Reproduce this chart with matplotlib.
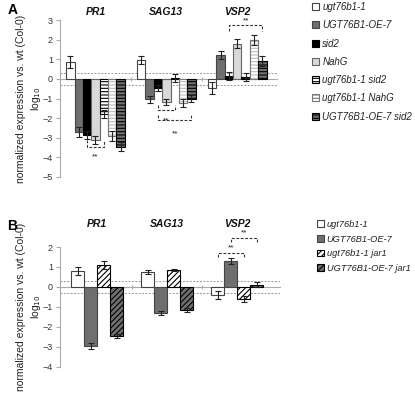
import numpy as np
import matplotlib
matplotlib.use("Agg")
import matplotlib.pyplot as plt
from matplotlib.patches import Patch

plt.rcParams['font.family'] = ['Liberation Sans', 'DejaVu Sans']
plt.rcParams['hatch.linewidth'] = 0.8

# ---- data: panel A ----
genes = ['PR1', 'SAG13', 'VSP2']
lines_a = ['ugt76b1-1', 'UGT76B1-OE-7', 'sid2', 'NahG',
           'ugt76b1-1 sid2', 'ugt76b1-1 NahG', 'UGT76B1-OE-7 sid2']
vals_a = [[0.85, -2.7, -2.85, -3.1, -1.8, -2.9, -3.45],
          [0.95, -1.05, -0.45, -1.2, 0.05, -1.25, -1.0],
          [-0.45, 1.2, 0.15, 1.8, 0.08, 2.0, 0.9]]
errs_a = [[0.3, 0.25, 0.2, 0.2, 0.2, 0.25, 0.22],
          [0.2, 0.2, 0.15, 0.15, 0.2, 0.2, 0.2],
          [0.3, 0.2, 0.22, 0.25, 0.2, 0.25, 0.25]]

# ---- data: panel B ----
lines_b = ['ugt76b1-1', 'UGT76B1-OE-7', 'ugt76b1-1 jar1', 'UGT76B1-OE-7 jar1']
vals_b = [[0.8, -2.95, 1.1, -2.45],
          [0.75, -1.3, 0.85, -1.15],
          [-0.38, 1.3, -0.62, 0.12]]
errs_b = [[0.2, 0.15, 0.18, 0.1],
          [0.1, 0.08, 0.05, 0.08],
          [0.2, 0.15, 0.15, 0.12]]

# significance brackets: (gene, bar_i, bar_j, y, tick length, star y)
sig_a = [(0, 2, 4, -3.47, 0.37, -3.8),
         (1, 2, 4, -1.58, 0.25, -1.95),
         (1, 2, 6, -2.09, 0.25, -2.6),
         (2, 2, 6, 2.75, -0.3, 2.8)]
sig_b = [(2, 0, 2, 1.7, -0.22, 1.78),
         (2, 1, 3, 2.45, -0.2, 2.53)]

# styles per line
sty_a = [dict(fc='white', ec='#444444', hatch=None),
         dict(fc='#6f6f6f', ec='#444444', hatch=None),
         dict(fc='black', ec='black', hatch=None),
         dict(fc='#d9d9d9', ec='#666666', hatch=None),
         dict(fc='white', ec='black', hatch='-----'),
         dict(fc='white', ec='#bbbbbb', hatch='-----'),
         dict(fc='#6f6f6f', ec='black', hatch='-----')]
sty_b = [dict(fc='white', ec='#444444', hatch=None),
         dict(fc='#6f6f6f', ec='#444444', hatch=None),
         dict(fc='white', ec='black', hatch='//////'),
         dict(fc='#6f6f6f', ec='black', hatch='//////')]

W, H = 415, 404
fig = plt.figure(figsize=(W / 100, H / 100), dpi=100)


def panel(rect, vals, errs, styles, bw, ylim, xlim, sig, letter, letter_y, label_y):
    ax = fig.add_axes(rect)
    n = len(styles)
    x0 = np.arange(len(genes))
    offs = (np.arange(n) - (n - 1) / 2) * bw
    for i, s in enumerate(styles):
        v = [row[i] for row in vals]
        e = [row[i] for row in errs]
        ax.bar(x0 + offs[i], v, bw, color=s['fc'], edgecolor=s['ec'],
               hatch=s['hatch'], linewidth=0.8, zorder=3)
        if s['ec'] == '#bbbbbb':
            ax.bar(x0 + offs[i], v, bw, fill=False, edgecolor='#777777',
                   linewidth=0.8, zorder=3)
        ax.errorbar(x0 + offs[i], v, yerr=e, fmt='none', ecolor='#222222',
                    elinewidth=0.8, capsize=2.2, capthick=0.8, zorder=4)
    for yy in (0.3, -0.3):
        ax.axhline(yy, color='#999999', lw=0.7, ls=(0, (2, 1.5)), zorder=1)
    for g, i, j, yy, tl, sy in sig:
        xa, xb = g + offs[i], g + offs[j]
        ax.plot([xa, xa, xb, xb], [yy + tl, yy, yy, yy + tl], color='#333333',
                lw=0.8, ls=(0, (2.5, 1.5)), clip_on=False, zorder=5)
        ax.text((xa + xb) / 2, sy, '**', ha='center',
                va='bottom' if tl < 0 else 'top', fontsize=6, color='#222222')
    for g, name in enumerate(genes):
        ax.text(g, label_y, name, ha='center', va='center', fontsize=7.5,
                fontweight='bold', fontstyle='italic', color='#111111')
    ax.set_ylim(*ylim)
    ax.set_xlim(*xlim)
    ax.set_yticks(np.arange(ylim[0], ylim[1] + 1))
    ax.set_xticks(x0[:-1] + 0.5)
    ax.set_xticklabels([])
    ax.spines['bottom'].set_position(('data', 0))
    ax.spines['bottom'].set_color('#aaaaaa')
    ax.spines['bottom'].set_linewidth(0.8)
    ax.spines['left'].set_color('#aaaaaa')
    ax.spines['left'].set_linewidth(0.8)
    for sp in ('top', 'right'):
        ax.spines[sp].set_visible(False)
    ax.tick_params(axis='x', direction='inout', length=3, color='#aaaaaa')
    ax.tick_params(axis='y', length=3, color='#aaaaaa', labelsize=6.5,
                   labelcolor='#333333', pad=2)
    ax.set_ylabel('normalized expression vs. wt (Col-0)\nlog$_{10}$',
                  fontsize=7.5, color='#222222', linespacing=1.3)
    ax.yaxis.set_label_coords(-17 / (rect[2] * W), 0.5)
    fig.text(0.018, letter_y, letter, fontsize=10, fontweight='bold',
             va='center', ha='left')
    return ax


axA = panel([60 / W, 1 - 177 / H, 217 / W, 157 / H], vals_a, errs_a, sty_a,
            0.118, (-5, 3), (-0.5, 2.56), sig_a, 'A', 1 - 10 / H, 3.42)
axB = panel([60 / W, 1 - 367 / H, 220 / W, 120 / H], vals_b, errs_b, sty_b,
            0.186, (-4, 2), (-0.53, 2.61), sig_b, 'B', 1 - 226 / H, 3.15)


def make_handles(labels, styles):
    hs = []
    for lab, s in zip(labels, styles):
        ec = '#777777' if s['ec'] == '#bbbbbb' else s['ec']
        hs.append(Patch(facecolor=s['fc'], edgecolor=ec, hatch=s['hatch'],
                        linewidth=0.8, label=lab))
    return hs


leg_kw = dict(loc='upper left', frameon=False, handlelength=0.75,
              handleheight=0.75, handletextpad=0.3, borderaxespad=0,
              borderpad=0, labelcolor='#222222')
fig.legend(handles=make_handles(lines_a, sty_a),
           bbox_to_anchor=(312 / W, 1 - 2 / H), labelspacing=0.85,
           prop=dict(size=7, style='italic'), **leg_kw)
fig.legend(handles=make_handles(lines_b, sty_b),
           bbox_to_anchor=(317 / W, 1 - 220 / H), labelspacing=0.6,
           prop=dict(size=6.7, style='italic'), **leg_kw)

fig.savefig('out.png', dpi=100)
